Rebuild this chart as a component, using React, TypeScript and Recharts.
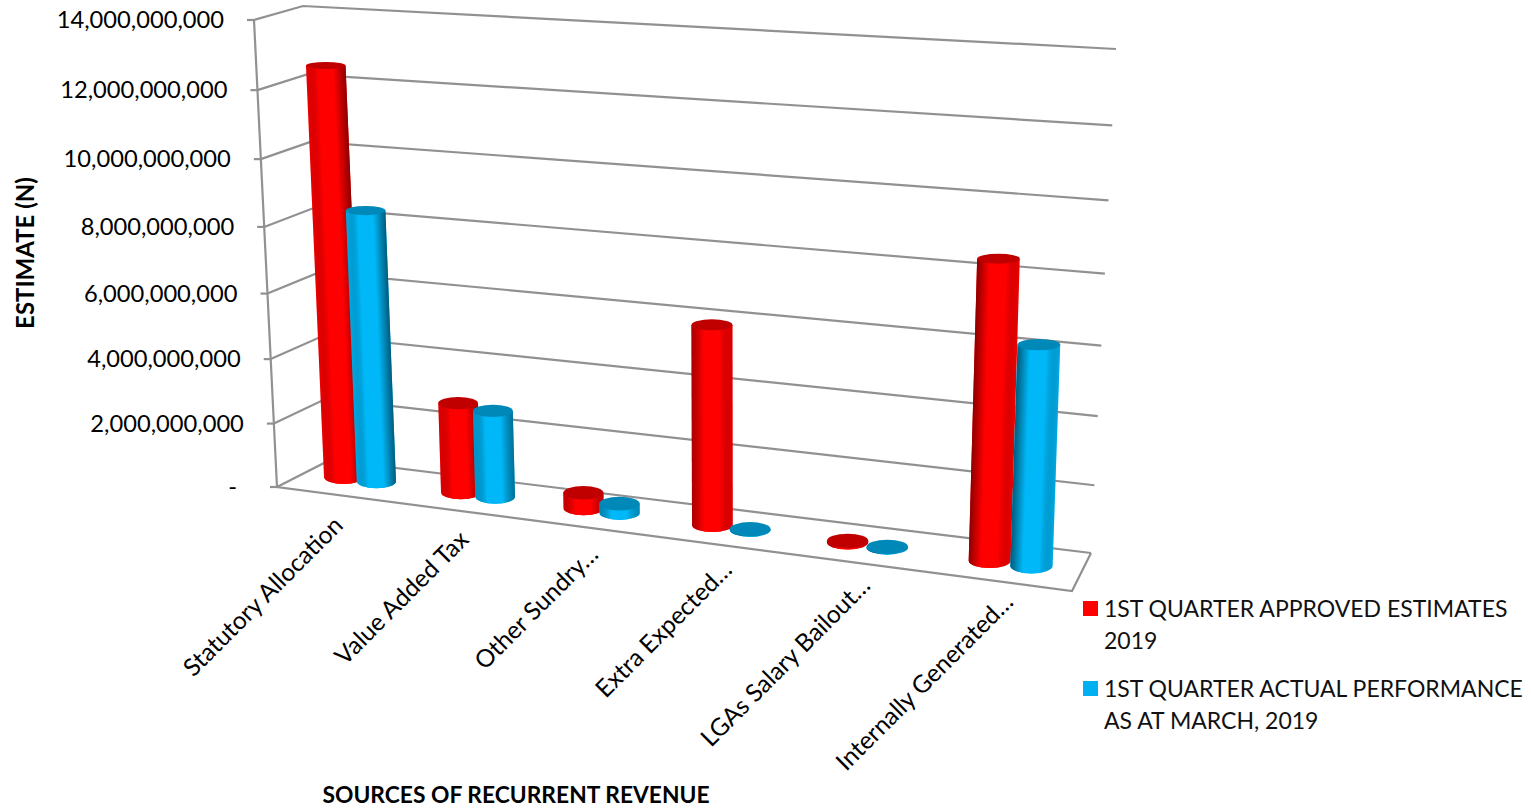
import { BarChart, Bar, XAxis, YAxis, CartesianGrid, Legend, Label } from "recharts";

const sources = [
  "Statutory Allocation",
  "Value Added Tax",
  "Other Sundry…",
  "Extra Expected…",
  "LGAs Salary Bailout…",
  "Internally Generated…",
];
const approvedEstimates = [12500000000, 2750000000, 470000000, 5820000000, 40000000, 8300000000];
const actualPerformance = [8300000000, 2630000000, 280000000, 15000000, 15000000, 6100000000];
const yTicks = [0, 2000000000, 4000000000, 6000000000, 8000000000, 10000000000, 12000000000, 14000000000];

const FONT = "Lato, sans-serif";
const GRID = "#919191";

// flat plot area the library lays out, everything is then projected onto the walls
const PLOT_LEFT = 300;
const PLOT_TOP = 18;
const PLOT_W = 781;
const PLOT_H = 469;

type Pt = [number, number];

// maps the unit square to a quad: p00 bottom left, p10 bottom right, p11 top right, p01 top left
function homography(p00: Pt, p10: Pt, p11: Pt, p01: Pt) {
  const sx = p00[0] - p10[0] + p11[0] - p01[0];
  const sy = p00[1] - p10[1] + p11[1] - p01[1];
  const dx1 = p10[0] - p11[0];
  const dy1 = p10[1] - p11[1];
  const dx2 = p01[0] - p11[0];
  const dy2 = p01[1] - p11[1];
  const det = dx1 * dy2 - dx2 * dy1;
  const g = (sx * dy2 - dx2 * sy) / det;
  const h = (dx1 * sy - sx * dy1) / det;
  const ax = p10[0] - p00[0] + g * p10[0];
  const bx = p01[0] - p00[0] + h * p01[0];
  const ay = p10[1] - p00[1] + g * p10[1];
  const by = p01[1] - p00[1] + h * p01[1];
  return (u: number, v: number): Pt => {
    const w = g * u + h * v + 1;
    return [(ax * u + bx * v + p00[0]) / w, (ay * u + by * v + p00[1]) / w];
  };
}

const frontPlane = homography([277, 487], [1072, 591], [1100, 80], [254, 20]);
const barPlane = homography([303, 472], [1085, 573], [1106, 43], [281, 12]);
const backPlane = homography([330, 460], [1091, 553], [1116, 49], [303, 6]);

const toU = (x: number) => (x - PLOT_LEFT) / PLOT_W;
const toV = (y: number) => (PLOT_TOP + PLOT_H - y) / PLOT_H;

function wallLine(props: any) {
  const v = toV(props.y1);
  const a = frontPlane(0, v);
  const b = backPlane(0, v);
  const c = backPlane(1, v);
  const isFloor = Math.abs(v) < 0.001;
  const stroke = { stroke: GRID, strokeWidth: 2.2, fill: "none" };
  return (
    <g key={props.key}>
      <polyline points={`${a} ${b} ${c}`} {...stroke} />
      {isFloor && <polyline points={`${frontPlane(0, 1)} ${a} ${frontPlane(1, 0)} ${c}`} {...stroke} />}
    </g>
  );
}

function ValueTick(props: any) {
  const [x, y] = frontPlane(0, toV(props.y));
  const value = props.payload.value;
  return (
    <g>
      <line x1={x - 7} y1={y} x2={x} y2={y} stroke={GRID} strokeWidth={2.2} />
      <text
        x={value === 0 ? x - 40 : x - 30}
        y={y + 8}
        textAnchor="end"
        fontFamily={FONT}
        fontSize={23.7}
        fill="#000"
      >
        {value === 0 ? "-" : value.toLocaleString("en-US")}
      </text>
    </g>
  );
}

function SourceTick(props: any) {
  const u = toU(props.x);
  const [x, y] = frontPlane(u, 0);
  const ax = x + 6 + 10 * u;
  const ay = y + 33 - 12 * u;
  return (
    <text
      x={ax}
      y={ay}
      textAnchor="end"
      transform={`rotate(-45 ${ax} ${ay})`}
      fontFamily={FONT}
      fontSize={24.5}
      fill="#000"
    >
      {props.payload.value}
    </text>
  );
}

const ellipseHeight = (y: number) => 3 + y * 0.0078;
const radius = (plane: (u: number, v: number) => Pt, u0: number, u1: number, v: number) =>
  14 + 0.17 * (plane(u1, v)[0] - plane(u0, v)[0]);

// one cylinder, lit from the side that faces the middle of the chart
function makeCylinder(bright: string, dark: string, cap: string, id: string) {
  return function Cylinder(props: any) {
    const { x, y, width, height, index } = props;
    const u = toU(x + width / 2);
    const u0 = toU(x);
    const u1 = toU(x + width);
    const vTop = toV(y);
    const vBase = toV(y + height);
    const [bx, by] = barPlane(u, vBase);
    const [tx, ty] = barPlane(u, vTop);
    const rb = radius(barPlane, u0, u1, vBase);
    const rt = radius(barPlane, u0, u1, vTop);
    const ryb = ellipseHeight(by);
    const ryt = ellipseHeight(ty);

    const len = Math.max(Math.hypot(bx - tx, by - ty), 1);
    const px = (by - ty) / len || 1;
    const py = -(bx - tx) / len || 0;

    const leftShade = Math.min(1, Math.max(0, (tx - 380) / 500));
    const rightShade = Math.min(1, Math.max(0, (760 - tx) / 380));
    const gradId = `${id}-${index}`;
    const body = `M${bx - rb} ${by} L${tx - rt} ${ty} L${tx + rt} ${ty} L${bx + rb} ${by} A${rb} ${ryb} 0 0 1 ${bx - rb} ${by} Z`;
    return (
      <g>
        <defs>
          <linearGradient
            id={gradId}
            gradientUnits="userSpaceOnUse"
            x1={tx - px * rt}
            y1={ty - py * rt}
            x2={tx + px * rt}
            y2={ty + py * rt}
          >
            <stop offset="0" stopColor={dark} stopOpacity={0.15 + 0.85 * leftShade} />
            <stop offset="0.3" stopColor={bright} />
            <stop offset="0.68" stopColor={bright} />
            <stop offset="1" stopColor={dark} stopOpacity={0.15 + 0.85 * rightShade} />
          </linearGradient>
        </defs>
        <path d={body} fill={bright} />
        <path d={body} fill={`url(#${gradId})`} />
        <ellipse cx={tx} cy={ty} rx={rt} ry={ryt} fill={cap} />
      </g>
    );
  };
}

const RedCylinder = makeCylinder("#ff0000", "#8c0000", "#c00000", "red");
const BlueCylinder = makeCylinder("#00b8f8", "#005a7a", "#0088b8", "blue");

function LegendList(props: any) {
  return (
    <div style={{ fontFamily: FONT, fontSize: 23, lineHeight: "32px", color: "#111" }}>
      {props.payload.map((entry: any) => (
        <div key={entry.value} style={{ display: "flex", marginBottom: 16 }}>
          <span
            style={{
              width: 15,
              height: 15,
              marginTop: 9,
              marginRight: 6,
              flexShrink: 0,
              background: entry.color,
            }}
          />
          <span style={{ width: 425 }}>{entry.value}</span>
        </div>
      ))}
    </div>
  );
}

const rows = sources.map((source, i) => ({
  source,
  approved: approvedEstimates[i],
  actual: actualPerformance[i],
}));

export default function App() {
  return (
    <div style={{ position: "absolute", left: 0, top: 0, width: 1531, height: 809, background: "#fff" }}>
      <BarChart
        width={1531}
        height={809}
        data={rows}
        margin={{ top: PLOT_TOP, left: 240, right: 1531 - PLOT_LEFT - PLOT_W, bottom: 0 }}
        barCategoryGap="21.5%"
        barGap={0}
      >
        <CartesianGrid horizontal={wallLine} vertical={false} />
        <XAxis
          dataKey="source"
          interval={0}
          height={809 - PLOT_TOP - PLOT_H}
          axisLine={false}
          tickLine={false}
          tick={SourceTick}
        >
          <Label
            content={() => (
              <text x={516} y={803} textAnchor="middle" fontFamily={FONT} fontWeight={700} fontSize={22.8} fill="#000">
                SOURCES OF RECURRENT REVENUE
              </text>
            )}
          />
        </XAxis>
        <YAxis
          width={60}
          domain={[0, 14000000000]}
          ticks={yTicks}
          axisLine={false}
          tickLine={false}
          tick={ValueTick}
        >
          <Label
            content={() => (
              <text
                x={34}
                y={253}
                textAnchor="middle"
                transform="rotate(-90 34 253)"
                fontFamily={FONT}
                fontWeight={700}
                fontSize={24}
                fill="#000"
              >
                ESTIMATE (N)
              </text>
            )}
          />
        </YAxis>
        <Legend
          layout="horizontal"
          verticalAlign="middle"
          align="center"
          itemSorter={null}
          content={LegendList}
          wrapperStyle={{ left: 1083, top: 592, width: 448 }}
        />
        <Bar
          dataKey="approved"
          name="1ST QUARTER APPROVED ESTIMATES 2019"
          fill="#ff0000"
          shape={RedCylinder}
          isAnimationActive={false}
        />
        <Bar
          dataKey="actual"
          name="1ST QUARTER ACTUAL PERFORMANCE AS AT MARCH, 2019"
          fill="#00b0f0"
          shape={BlueCylinder}
          isAnimationActive={false}
        />
      </BarChart>
    </div>
  );
}
